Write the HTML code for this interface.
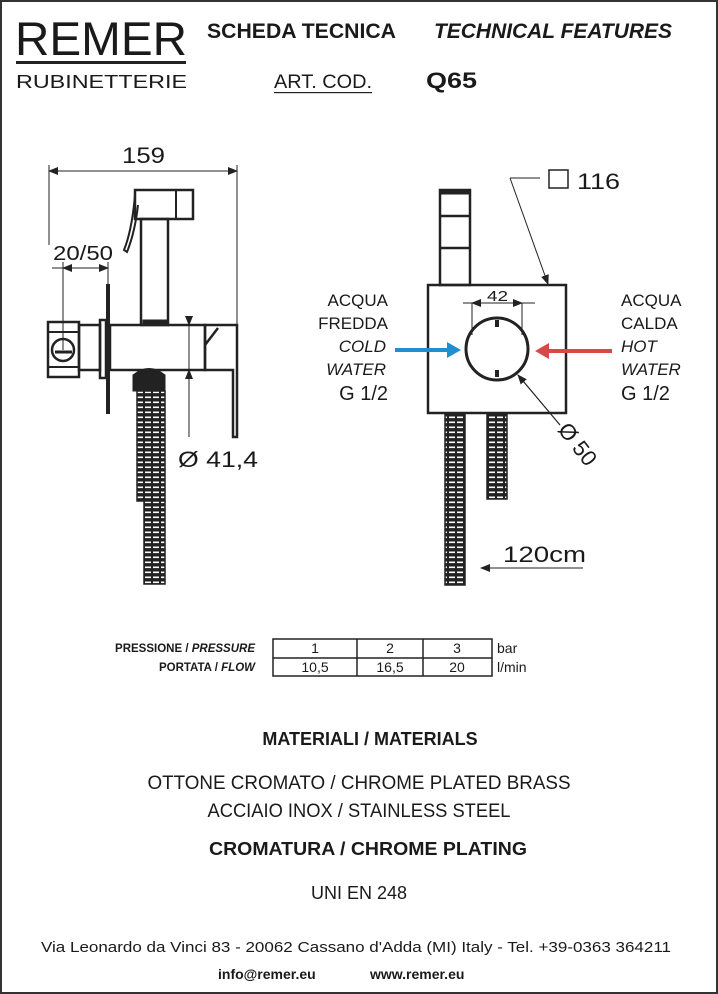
<!DOCTYPE html>
<html><head><meta charset="utf-8"><style>
html,body{margin:0;padding:0;background:#fff}
svg{display:block}
text{font-family:"Liberation Sans",sans-serif;fill:#1a1a1a}
</style></head><body>
<svg width="718" height="994" viewBox="0 0 718 994" xmlns="http://www.w3.org/2000/svg">
<defs>
<pattern id="hose" width="8" height="5" patternUnits="userSpaceOnUse">
<rect width="8" height="5" fill="#222"/><rect x="1" y="1.5" width="6" height="1.6" fill="#fff"/>
</pattern>
<marker id="ar" markerWidth="10" markerHeight="8" refX="9" refY="4" orient="auto" markerUnits="userSpaceOnUse"><path d="M0,0 L10,4 L0,8 Z" fill="#222"/></marker>
</defs>
<rect x="1" y="1" width="716" height="992" fill="none" stroke="#333" stroke-width="2"/>
<!-- header -->
<text x="15" y="55" font-size="47" textLength="172" lengthAdjust="spacingAndGlyphs">REMER</text>
<rect x="16" y="61" width="170" height="3" fill="#222"/>
<text x="16" y="88" font-size="18" textLength="171" lengthAdjust="spacingAndGlyphs">RUBINETTERIE</text>
<text x="207" y="38" font-size="21" font-weight="bold" textLength="189" lengthAdjust="spacingAndGlyphs">SCHEDA TECNICA</text>
<text x="434" y="38" font-size="21" font-weight="bold" font-style="italic" textLength="238" lengthAdjust="spacingAndGlyphs">TECHNICAL FEATURES</text>
<text x="274" y="88" font-size="19" textLength="98" lengthAdjust="spacingAndGlyphs">ART. COD.</text>
<rect x="274" y="92" width="98" height="1.2" fill="#222"/>
<text x="426" y="88" font-size="22" font-weight="bold" textLength="51" lengthAdjust="spacingAndGlyphs">Q65</text>

<!-- left side view -->
<g stroke="#222" fill="none">
<line x1="49" y1="171" x2="237" y2="171" stroke-width="1" marker-end="url(#ar)"/>
<line x1="237" y1="171" x2="49" y2="171" stroke-width="1" marker-end="url(#ar)"/>
<line x1="49" y1="165" x2="49" y2="245" stroke-width="1"/>
<line x1="237" y1="165" x2="237" y2="326" stroke-width="1"/>
<rect x="135" y="190" width="58" height="29" stroke-width="2.5"/>
<line x1="176" y1="190" x2="176" y2="219" stroke-width="2"/>
<rect x="141" y="219" width="27" height="106" stroke-width="2.5"/>
<rect x="143" y="320" width="24" height="5" fill="#222"/>
<path d="M135,195 Q132,230 124,250 L127,252 Q135,232 138,205" stroke-width="2"/>
<line x1="52" y1="268" x2="63" y2="268" stroke-width="1"/>
<line x1="63" y1="268" x2="108" y2="268" stroke-width="1" marker-end="url(#ar)"/>
<line x1="108" y1="268" x2="63" y2="268" stroke-width="1" marker-end="url(#ar)"/>
<line x1="63" y1="262" x2="63" y2="350" stroke-width="1"/>
<line x1="108" y1="262" x2="108" y2="284" stroke-width="1"/>
<rect x="106" y="284" width="4" height="130" fill="#222" stroke="none"/>
<rect x="48" y="322" width="31" height="55" stroke-width="2.5"/>
<line x1="48" y1="332" x2="79" y2="332" stroke-width="2"/>
<line x1="48" y1="367" x2="79" y2="367" stroke-width="2"/>
<circle cx="63" cy="350" r="11" stroke-width="2.5"/>
<line x1="55" y1="352" x2="72" y2="352" stroke-width="3"/>
<rect x="79" y="325" width="21" height="45" stroke-width="2.5"/>
<rect x="100" y="320" width="6" height="58" stroke-width="2.5"/>
<rect x="110" y="325" width="95" height="45" stroke-width="2.5"/>
<path d="M205,325 L237,325 L237,437 L233,437 L233,370 L205,370 Z M205,345 L218,328" stroke-width="2.5"/>
<path d="M133,375 Q149,362 165,375 L165,391 L133,391 Z" fill="#222" stroke-width="1"/>
<rect x="137" y="391" width="28" height="110" fill="url(#hose)" stroke-width="1.5"/>
<rect x="144" y="501" width="21" height="83" fill="url(#hose)" stroke-width="1.5"/>
<line x1="189" y1="316" x2="189" y2="325" stroke-width="1" marker-end="url(#ar)"/>
<line x1="189" y1="437" x2="189" y2="370" stroke-width="1" marker-end="url(#ar)"/>
<line x1="189" y1="325" x2="189" y2="370" stroke-width="1"/>
</g>
<text x="122" y="163" font-size="22" textLength="43" lengthAdjust="spacingAndGlyphs">159</text>
<text x="53" y="260" font-size="20" textLength="60" lengthAdjust="spacingAndGlyphs">20/50</text>
<text x="178" y="467" font-size="22" textLength="80" lengthAdjust="spacingAndGlyphs">Ø 41,4</text>

<!-- front view -->
<g stroke="#222" fill="none">
<rect x="549" y="170" width="19" height="18" stroke-width="1.5"/>
<line x1="510" y1="178" x2="540" y2="178" stroke-width="1"/>
<line x1="510" y1="178" x2="548" y2="284" stroke-width="1" marker-end="url(#ar)"/>
<rect x="440" y="190" width="30" height="95" stroke-width="2.5"/>
<rect x="440" y="190" width="30" height="4" fill="#222"/>
<line x1="440" y1="216" x2="470" y2="216" stroke-width="2.5"/>
<line x1="440" y1="248" x2="470" y2="248" stroke-width="2.5"/>
<rect x="428" y="285" width="138" height="128" stroke-width="2.5"/>
<line x1="463" y1="303" x2="472" y2="303" stroke-width="1"/>
<line x1="472" y1="303" x2="522" y2="303" stroke-width="1" marker-end="url(#ar)"/>
<line x1="522" y1="303" x2="472" y2="303" stroke-width="1" marker-end="url(#ar)"/>
<line x1="522" y1="303" x2="535" y2="303" stroke-width="1"/>
<line x1="472" y1="303" x2="472" y2="335" stroke-width="1"/>
<line x1="522" y1="303" x2="522" y2="335" stroke-width="1"/>
<circle cx="497" cy="349" r="31" stroke-width="3"/>
<path d="M468,340 Q465,349 468,358 M526,340 Q529,349 526,358" stroke-width="1.5"/>
<line x1="497" y1="320" x2="497" y2="327" stroke-width="4"/>
<line x1="497" y1="370" x2="497" y2="377" stroke-width="4"/>
<line x1="560" y1="425" x2="518" y2="375" stroke-width="1.2" marker-end="url(#ar)"/>
<rect x="445" y="413" width="20" height="172" fill="url(#hose)" stroke-width="1.5"/>
<rect x="487" y="413" width="20" height="86" fill="url(#hose)" stroke-width="1.5"/>
<line x1="583" y1="568" x2="481" y2="568" stroke-width="1" marker-end="url(#ar)"/>
</g>
<line x1="395" y1="350" x2="450" y2="350" stroke="#1e90d0" stroke-width="4"/>
<path d="M447,342 L461,350 L447,358 Z" fill="#1e90d0"/>
<line x1="612" y1="351" x2="546" y2="351" stroke="#d94848" stroke-width="4"/>
<path d="M549,343 L535,351 L549,359 Z" fill="#d94848"/>
<text x="577" y="189" font-size="22" textLength="43" lengthAdjust="spacingAndGlyphs">116</text>
<text x="487" y="301" font-size="15" textLength="21" lengthAdjust="spacingAndGlyphs">42</text>
<g font-size="17" text-anchor="end">
<text x="388" y="306">ACQUA</text>
<text x="388" y="329">FREDDA</text>
<text x="386" y="352" font-style="italic">COLD</text>
<text x="386" y="375" font-style="italic">WATER</text>
<text x="388" y="400" font-size="20">G 1/2</text>
</g>
<g font-size="17">
<text x="621" y="306">ACQUA</text>
<text x="621" y="329">CALDA</text>
<text x="621" y="352" font-style="italic">HOT</text>
<text x="621" y="375" font-style="italic">WATER</text>
<text x="621" y="400" font-size="20">G 1/2</text>
</g>
<text x="0" y="0" font-size="22" transform="translate(557,430) rotate(52)">Ø 50</text>
<text x="503" y="562" font-size="22" textLength="83" lengthAdjust="spacingAndGlyphs">120cm</text>

<!-- table -->
<g font-size="11.5" font-weight="bold" text-anchor="end">
<text x="255" y="652">PRESSIONE / <tspan font-style="italic">PRESSURE</tspan></text>
<text x="255" y="671">PORTATA / <tspan font-style="italic">FLOW</tspan></text>
</g>
<g stroke="#222" stroke-width="1.5" fill="none">
<rect x="273" y="639" width="219" height="37"/>
<line x1="273" y1="658" x2="492" y2="658"/>
<line x1="357" y1="639" x2="357" y2="676"/>
<line x1="423" y1="639" x2="423" y2="676"/>
</g>
<g font-size="14" text-anchor="middle">
<text x="315" y="653">1</text><text x="390" y="653">2</text><text x="457" y="653">3</text>
<text x="315" y="672">10,5</text><text x="390" y="672">16,5</text><text x="457" y="672">20</text>
</g>
<text x="497" y="653" font-size="14">bar</text>
<text x="497" y="672" font-size="14">l/min</text>

<!-- materials -->
<g text-anchor="middle">
<text x="370" y="745" font-size="18" font-weight="bold">MATERIALI / MATERIALS</text>
<text x="359" y="789" font-size="19" textLength="423" lengthAdjust="spacingAndGlyphs">OTTONE CROMATO / CHROME PLATED BRASS</text>
<text x="359" y="817" font-size="19" textLength="303" lengthAdjust="spacingAndGlyphs">ACCIAIO INOX / STAINLESS STEEL</text>
<text x="368" y="855" font-size="18" font-weight="bold" textLength="318" lengthAdjust="spacingAndGlyphs">CROMATURA / CHROME PLATING</text>
<text x="359" y="899" font-size="18">UNI EN 248</text>
<text x="356" y="952" font-size="15" textLength="630" lengthAdjust="spacingAndGlyphs">Via Leonardo da Vinci 83 - 20062 Cassano d'Adda (MI) Italy - Tel. +39-0363 364211</text>
</g>
<text x="218" y="979" font-size="14" font-weight="bold">info@remer.eu</text>
<text x="370" y="979" font-size="14" font-weight="bold">www.remer.eu</text>
</svg>
</body></html>
